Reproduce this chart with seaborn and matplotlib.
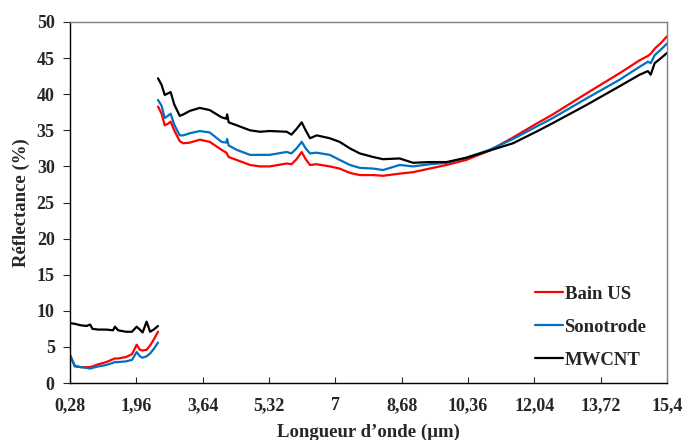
import numpy as np
import pandas as pd
import matplotlib
matplotlib.use("Agg")
import matplotlib.pyplot as plt
import seaborn as sns

# Données (longueur d'onde en µm, réflectance en %)
series = ["Bain US", "Sonotrode", "MWCNT"]
couleurs = ["#ff0000", "#0070c0", "#000000"]

# segment 1 : 0,28 - 2,5 µm
wl1 = [0.28, 0.40, 0.55, 0.70, 0.79, 0.85, 1.00, 1.20, 1.37, 1.42, 1.50,
       1.70, 1.85, 1.97, 2.05, 2.12, 2.22, 2.31, 2.40, 2.51]
bain1 = [3.9, 2.4, 2.2, 2.2, 2.2, 2.3, 2.6, 2.9, 3.3, 3.4, 3.4,
         3.6, 4.0, 5.3, 4.6, 4.5, 4.6, 5.2, 6.0, 7.1]
sono1 = [3.9, 2.3, 2.2, 2.1, 2.0, 2.1, 2.3, 2.5, 2.8, 2.9, 2.9,
         3.0, 3.2, 4.3, 3.7, 3.5, 3.7, 4.1, 4.7, 5.6]
mwcnt1 = [8.3, 8.2, 8.0, 7.9, 8.1, 7.5, 7.4, 7.4, 7.3, 7.8, 7.3,
          7.1, 7.1, 7.8, 7.4, 7.0, 8.5, 7.1, 7.4, 7.9]

# segment 2 : 2,5 - 15,4 µm
wl2 = [2.51, 2.60, 2.68, 2.76, 2.83, 2.92, 3.06, 3.15, 3.32, 3.57, 3.82,
       4.12, 4.24, 4.26, 4.30, 4.50, 4.84, 5.09, 5.34, 5.77, 5.89, 6.02,
       6.15, 6.25, 6.36, 6.53, 6.86, 7.11, 7.37, 7.62, 7.96, 8.21, 8.63,
       8.97, 9.39, 9.82, 10.32, 10.91, 11.50, 12.09, 12.51, 13.36, 14.20,
       14.71, 14.92, 14.99, 15.09, 15.25, 15.40]
bain2 = [38.3, 37.3, 35.7, 35.9, 36.2, 35.0, 33.5, 33.2, 33.3, 33.7, 33.4,
         32.3, 31.9, 31.7, 31.3, 30.9, 30.2, 30.0, 30.0, 30.4, 30.3, 31.0,
         32.0, 31.0, 30.2, 30.3, 30.0, 29.7, 29.1, 28.8, 28.8, 28.7, 29.0,
         29.2, 29.7, 30.2, 30.9, 32.2, 34.0, 35.9, 37.2, 40.1, 42.9,
         44.7, 45.3, 45.6, 46.3, 47.1, 48.0]
sono2 = [39.2, 38.4, 36.7, 37.0, 37.3, 35.8, 34.3, 34.3, 34.6, 34.9, 34.7,
         33.4, 33.3, 33.8, 32.9, 32.3, 31.6, 31.6, 31.6, 32.0, 31.8, 32.5,
         33.4, 32.5, 31.8, 31.9, 31.6, 30.9, 30.2, 29.8, 29.7, 29.5, 30.2,
         30.0, 30.3, 30.5, 31.2, 32.3, 33.8, 35.5, 36.7, 39.4, 42.0,
         43.8, 44.5, 44.3, 45.4, 46.2, 47.0]
mwcnt2 = [42.2, 41.3, 39.9, 40.1, 40.3, 38.6, 37.0, 37.2, 37.7, 38.1, 37.8,
          36.8, 36.6, 37.2, 36.1, 35.7, 35.0, 34.8, 34.9, 34.8, 34.4, 35.2,
          36.1, 35.0, 33.9, 34.3, 33.9, 33.4, 32.5, 31.8, 31.3, 31.0, 31.1,
          30.5, 30.6, 30.6, 31.2, 32.2, 33.2, 34.8, 36.0, 38.5, 41.1,
          42.7, 43.2, 42.7, 44.3, 45.0, 45.7]

xticks = [0.28, 1.96, 3.64, 5.32, 7, 8.68, 10.36, 12.04, 13.72, 15.4]
xlabels = ["0,28", "1,96", "3,64", "5,32", "7", "8,68", "10,36", "12,04", "13,72", "15,4"]

# tableau long pour seaborn
rows = []
for nom, s1, s2 in zip(series, [bain1, sono1, mwcnt1], [bain2, sono2, mwcnt2]):
    for seg, (wl, vals) in enumerate([(wl1, s1), (wl2, s2)]):
        assert len(wl) == len(vals)
        for x, y in zip(wl, vals):
            rows.append({"wl": x, "refl": y, "serie": nom, "segment": seg})
df = pd.DataFrame(rows)

sns.set_style("ticks")
plt.rcParams["font.family"] = ["Liberation Serif", "DejaVu Serif"]
plt.rcParams["font.weight"] = "bold"

fig = plt.figure(figsize=(6.84, 4.4), dpi=100)
ax = fig.add_axes([0.1023, 0.1295, 0.8727, 0.8205])

sns.lineplot(data=df, x="wl", y="refl", hue="serie", units="segment",
             estimator=None, sort=False, palette=dict(zip(series, couleurs)),
             hue_order=series, linewidth=1.6, ax=ax)

ax.set_xlim(0.28, 15.4)
ax.set_ylim(0, 50)
ax.set_xticks(xticks)
ax.set_xticklabels(xlabels)
ax.set_yticks(np.arange(0, 51, 5))
ax.tick_params(axis="x", direction="in", length=4, pad=10, labelsize=13)
ax.tick_params(axis="y", direction="out", length=5, pad=6, labelsize=13)
for lab in ax.get_xticklabels() + ax.get_yticklabels():
    lab.set_fontweight("bold")

ax.set_xlabel("Longueur d’onde (µm)", fontsize=13.5, fontweight="bold", labelpad=7)
ax.set_ylabel("Réflectance (%)", fontsize=13.5, fontweight="bold", labelpad=5)

for s in ["left", "bottom"]:
    ax.spines[s].set_color("black")
for s in ["top", "right"]:
    ax.spines[s].set_color("#7f7f7f")
for s in ax.spines.values():
    s.set_linewidth(1.0)

leg = ax.legend(loc="center left", bbox_to_anchor=(0.750, 0.155), frameon=False,
                handlelength=1.5, handletextpad=0.1, labelspacing=0.85,
                prop={"family": "Liberation Serif", "weight": "bold", "size": 13.5})

fig.savefig("out.png", dpi=100)
